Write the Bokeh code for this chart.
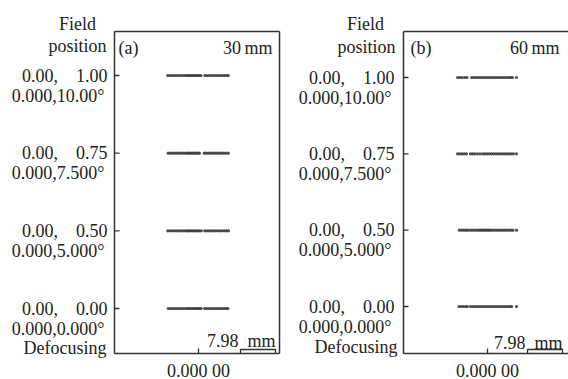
from bokeh.plotting import figure
from bokeh.models import Range1d
from bokeh.layouts import row
from bokeh.core.properties import value
from bokeh.embed import file_html
from bokeh.resources import INLINE

# ---------------- data ----------------
row_pos = [0, 1, 2, 3]
tick_line1 = ["0.00,\u00a0\u00a0\u00a0 0.00", "0.00,\u00a0\u00a0\u00a0 0.50",
              "0.00,\u00a0\u00a0\u00a0 0.75", "0.00,\u00a0\u00a0\u00a0 1.00"]
tick_line2 = ["0.000,0.000°", "0.000,5.000°", "0.000,7.500°", "0.000,10.00°"]
x_tick_pos = [0]
x_tick_label = ["0.000 00"]
scale_mm = 7.98
panel_tags = ["(a)", "(b)"]
panel_focal = ["30\u2009mm", "60\u2009mm"]

# spot x offsets (scale units) per field row, panel (a) 30 mm
spots_a = [
    [-6.9, -6.4, -5.9, -5.4, -4.9, -4.4, -3.9, -3.4, -2.9, -2.5, -2.1, -1.7, -1.3, -0.9, -0.5, -0.1, 0.25, 0.6,
     1.4, 1.85, 2.35, 2.85, 3.35, 3.85, 4.35, 4.85, 5.35, 5.85, 6.3, 6.7],
    [-7.0, -6.5, -6.0, -5.5, -5.0, -4.5, -4.0, -3.5, -3.0, -2.6, -2.2, -1.8, -1.4, -1.0, -0.6, -0.2, 0.2, 0.65,
     1.45, 1.9, 2.4, 2.9, 3.4, 3.9, 4.4, 4.9, 5.4, 5.9, 6.4, 6.85],
    [-6.9, -6.4, -5.9, -5.4, -4.9, -4.4, -3.9, -3.4, -2.9, -2.5, -2.1, -1.7, -1.3, -0.9, -0.5, -0.1, 0.2,
     1.3, 1.75, 2.25, 2.75, 3.25, 3.75, 4.25, 4.75, 5.25, 5.75, 6.25, 6.8],
    [-7.0, -6.5, -6.0, -5.5, -5.0, -4.5, -4.0, -3.5, -3.0, -2.6, -2.2, -1.8, -1.4, -1.0, -0.6, -0.2, 0.2, 0.55,
     1.45, 1.9, 2.4, 2.9, 3.4, 3.9, 4.4, 4.9, 5.4, 5.9, 6.4, 6.8],
]

# spot x offsets (scale units) per field row, panel (b) 60 mm
spots_b = [
    [-6.5, -6.0, -5.5, -5.0, -4.6,
     -3.9, -3.4, -2.9, -2.4, -1.9, -1.4, -0.9, -0.4, 0.1, 0.6, 1.1, 1.6, 2.1, 2.6, 3.1, 3.6, 4.1, 4.6, 5.1, 5.5,
     6.6],
    [-6.4, -5.9, -5.4, -4.9, -4.5,
     -3.9, -3.4, -2.9, -2.4, -1.9, -1.5, -1.1, -0.7, -0.3, 0.1, 0.5, 0.9, 1.4, 1.9, 2.4, 2.9, 3.4, 3.9, 4.4, 4.9,
     5.4, 5.8, 6.6],
    [-6.8, -6.3, -5.8, -5.3, -4.8,
     -3.9, -3.4, -2.9, -2.3, -1.7, -1.1, -0.6, -0.1, 0.4, 0.9, 1.4, 1.9, 2.4, 2.9, 3.4, 3.9, 4.4, 4.9, 5.4, 5.9,
     6.6],
    [-6.8, -6.3, -5.8, -5.2, -4.7,
     -3.6, -3.1, -2.6, -2.1, -1.6, -1.1, -0.6, -0.1, 0.4, 0.9, 1.4, 1.9, 2.4, 2.9, 3.4, 3.9, 4.4, 4.9, 5.3, 5.7,
     6.6],
]

# ---------------- style / layout ----------------
FONT = value("Liberation Serif")
FS = value("18px")
TXT = "#222222"
LINE = "#333333"
H = 379
UX = 4.386   # px per scale unit (7.98 scale bar ~ 35 px)

# geometry of each panel in its own canvas pixels (x from left, y from top)
geom_a = dict(width=288, tick_px=198, row0=308, row3=75, left=114, top=31, bottom=353, right=279,
              box_right=True, field_x=77, field_y=23, pos_x=77, pos_y=45, tag_x=118, tag_y=47,
              focal_r=272, bar_r=275, bar_lbl_y=340, defoc_r=106, defoc_y=347, lab_gap=7, lab2_dy=20,
              xlbl_y=370)
geom_b = dict(width=280, tick_px=199, row0=306, row3=77, left=115, top=31, bottom=353, right=280,
              box_right=False, field_x=77, field_y=23, pos_x=78, pos_y=46, tag_x=122, tag_y=47,
              focal_r=271, bar_r=274, bar_lbl_y=342, defoc_r=109, defoc_y=346, lab_gap=9, lab2_dy=20,
              xlbl_y=370)


def make_panel(g, spots, tag, focal):
    uy = (g["row0"] - g["row3"]) / (row_pos[-1] - row_pos[0])

    def fx(px):
        return (px - g["tick_px"]) / UX

    def fy(py):
        return (g["row0"] - py) / uy

    p = figure(width=g["width"], height=H, output_backend="svg", toolbar_location=None,
               x_range=Range1d(fx(0), fx(g["width"])), y_range=Range1d(fy(H), fy(0)),
               min_border=0, min_border_left=0, min_border_right=0,
               min_border_top=0, min_border_bottom=0)
    p.axis.visible = False
    p.grid.visible = False
    p.outline_line_color = None
    p.background_fill_color = "white"
    p.border_fill_color = "white"

    L, T, B, R = fx(g["left"]), fy(g["top"]), fy(g["bottom"]), fx(g["right"])
    # panel box (axes)
    xs = [L, R]
    p.segment(x0=[L, L, L], y0=[B, T, B], x1=[L, R, R], y1=[T, T, B],
              line_color=LINE, line_width=1.5)
    if g["box_right"]:
        p.segment(x0=[R], y0=[B], x1=[R], y1=[T], line_color=LINE, line_width=1.5)

    # inward ticks
    tick_len_x = 5 / UX
    tick_len_y = 5 / uy
    p.segment(x0=[L] * len(row_pos), y0=row_pos, x1=[L + tick_len_x] * len(row_pos), y1=row_pos,
              line_color=LINE, line_width=1.3)
    p.segment(x0=x_tick_pos, y0=[B] * len(x_tick_pos), x1=x_tick_pos,
              y1=[B + tick_len_y] * len(x_tick_pos), line_color=LINE, line_width=1.3)

    # spots
    for r, sx in zip(row_pos, spots):
        p.scatter(sx, [r] * len(sx), marker="circle", size=3.2, fill_color="#333333",
                  line_color=None, fill_alpha=0.85)

    tx = dict(text_font=FONT, text_font_size=FS, text_color=TXT, text_baseline="middle")
    # tick labels
    lx = fx(g["left"] - g["lab_gap"])
    p.text(x=[lx] * len(row_pos), y=row_pos, text=tick_line1, text_align="right", **tx)
    p.text(x=[lx - 3 / UX] * len(row_pos), y=[r - g["lab2_dy"] / uy for r in row_pos],
           text=tick_line2, text_align="right", **tx)
    p.text(x=x_tick_pos, y=[fy(g["xlbl_y"])] * len(x_tick_pos), text=x_tick_label,
           text_align="center", **tx)

    # header / side texts
    p.text(x=[fx(g["field_x"])], y=[fy(g["field_y"])], text=["Field"], text_align="center", **tx)
    p.text(x=[fx(g["pos_x"])], y=[fy(g["pos_y"])], text=["position"], text_align="center", **tx)
    p.text(x=[fx(g["defoc_r"])], y=[fy(g["defoc_y"])], text=["Defocusing"], text_align="right", **tx)
    p.text(x=[fx(g["tag_x"])], y=[fy(g["tag_y"])], text=[tag], text_align="left", **tx)
    p.text(x=[fx(g["focal_r"])], y=[fy(g["tag_y"])], text=[focal], text_align="right", **tx)

    # scale bar
    bar_right = fx(g["bar_r"])
    bar_left = bar_right - scale_mm
    bar_top = B + 4 / uy
    p.line([bar_left, bar_left, bar_right, bar_right], [B, bar_top, bar_top, B],
           line_color=LINE, line_width=1.3)
    p.text(x=[bar_right], y=[fy(g["bar_lbl_y"])], text=[f"{scale_mm:.2f}\u00a0 mm"],
           text_align="right", **tx)
    return p


pa = make_panel(geom_a, spots_a, panel_tags[0], panel_focal[0])
pb = make_panel(geom_b, spots_b, panel_tags[1], panel_focal[1])

layout = row(pa, pb)
open("out.html", "w").write(file_html(layout, INLINE))
